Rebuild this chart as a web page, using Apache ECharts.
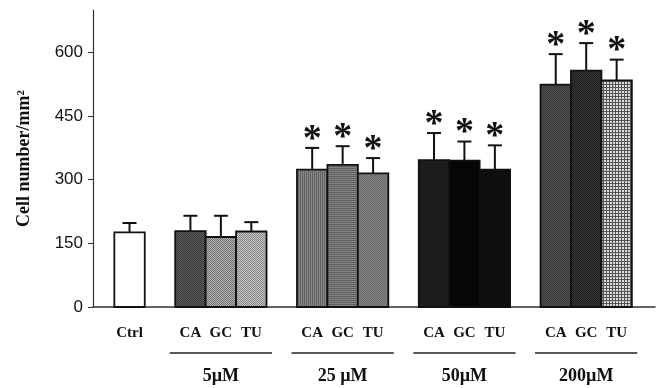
<!DOCTYPE html>
<html>
<head>
<meta charset="utf-8">
<script src="https://cdn.jsdelivr.net/npm/echarts@6/dist/echarts.min.js"></script>
<style>html,body{margin:0;padding:0;background:#fff;}#c{width:657px;height:388px;}</style>
</head>
<body>
<div id="c"></div>
<script>
// ---- data ----
const ctrlName = 'Ctrl';
const compoundNames = ['CA', 'GC', 'TU'];
const groupNames = ['5µM', '25 µM', '50µM', '200µM'];
const ctrlMean = [176];
const ctrlSD = [22];
const mean5 = [179, 165, 178];
const sd5 = [36, 50, 22];
const mean25 = [324, 335, 315];
const sd25 = [51, 44, 36];
const mean50 = [346, 345, 324];
const sd50 = [64, 45, 57];
const mean200 = [524, 557, 534];
const sd200 = [72, 65, 49];
const groupStarred = [false, true, true, true];
const yTicks = [0, 150, 300, 450, 600];

// ---- fills ----
function pat(bg, fg, kind) {
  const c = document.createElement('canvas');
  const n = kind === 'grid' ? 3 : 2;
  c.width = n; c.height = n;
  const g = c.getContext('2d');
  g.fillStyle = bg; g.fillRect(0, 0, n, n);
  g.fillStyle = fg;
  if (kind === 'dots') { g.fillRect(0, 0, 1, 1); g.fillRect(1, 1, 1, 1); }
  else if (kind === 'v') { g.fillRect(0, 0, 1, n); }
  else if (kind === 'h') { g.fillRect(0, 0, n, 1); }
  else if (kind === 'grid') { g.fillRect(0, 0, n, 1); g.fillRect(0, 0, 1, n); }
  return { image: c, repeat: 'repeat' };
}
const ctrlFill = '#ffffff';
const groupFills = [
  [pat('#5e5e5e', '#363636', 'dots'), pat('#b0b0b0', '#747474', 'dots'), pat('#c8c8c8', '#848484', 'dots')],
  [pat('#868686', '#646464', 'v'), pat('#828282', '#626262', 'h'), pat('#868686', '#686868', 'dots')],
  ['#1c1c1c', '#060606', '#0e0e0e'],
  [pat('#505050', '#383838', 'dots'), pat('#3a3a3a', '#1a1a1a', 'dots'), pat('#dcdcdc', '#555555', 'grid')]
];

// ---- build bar list (slot positions derived from group structure) ----
const groupMeans = [mean5, mean25, mean50, mean200];
const groupSDs = [sd5, sd25, sd50, sd200];
const bars = [];
const fills = [];
bars.push([0, ctrlMean[0], ctrlSD[0], ctrlName, 0]);
fills.push(ctrlFill);
const groupCenters = [];
groupNames.forEach((gname, g) => {
  const start = 2 + 4 * g;
  groupCenters.push([start + 1, gname]);
  compoundNames.forEach((cn, k) => {
    bars.push([start + k, groupMeans[g][k], groupSDs[g][k], cn, groupStarred[g] ? 1 : 0]);
    fills.push(groupFills[g][k]);
  });
});

const serif = '"Liberation Serif", "Times New Roman", serif';
const chart = echarts.init(document.getElementById('c'), null, { renderer: 'canvas' });
chart.setOption({
  animation: false,
  backgroundColor: '#ffffff',
  grid: { left: 93, right: 2, top: 10, bottom: 81 },
  xAxis: {
    type: 'value', min: -1.2, max: 17.26,
    axisLine: { show: true, onZero: false, lineStyle: { color: '#333', width: 1.5 } },
    axisTick: { show: false }, axisLabel: { show: false }, splitLine: { show: false }
  },
  yAxis: {
    type: 'value', min: 0, max: 700, interval: 150,
    name: 'Cell number/mm²', nameLocation: 'middle', nameGap: 60,
    nameTextStyle: { fontFamily: serif, fontWeight: 'bold', fontSize: 18, color: '#111' },
    axisLine: { show: true, onZero: false, lineStyle: { color: '#333', width: 1.2 } },
    axisTick: { show: true, length: 5, customValues: yTicks, lineStyle: { color: '#333' } },
    axisLabel: { customValues: yTicks, margin: 10, fontFamily: '"Liberation Sans", Arial, sans-serif', fontSize: 17, color: '#111' },
    splitLine: { show: false }
  },
  series: [
    {
      type: 'custom',
      clip: false,
      data: bars,
      renderItem: function (params, api) {
        const x = api.value(0), y = api.value(1), sd = api.value(2);
        const lab = bars[params.dataIndex][3];
        const star = api.value(4);
        const pL = api.coord([x - 0.5, 0]);
        const pR = api.coord([x + 0.5, y]);
        const pT = api.coord([x, y + sd]);
        const cx = (pL[0] + pR[0]) / 2;
        const children = [
          { type: 'line', shape: { x1: cx, y1: pR[1], x2: cx, y2: pT[1] }, style: { stroke: '#111', lineWidth: 2 } },
          { type: 'line', shape: { x1: cx - 7, y1: pT[1], x2: cx + 7, y2: pT[1] }, style: { stroke: '#111', lineWidth: 2 } },
          { type: 'rect', shape: { x: pL[0], y: pR[1], width: pR[0] - pL[0], height: pL[1] - pR[1] },
            style: { fill: fills[params.dataIndex], stroke: '#111', lineWidth: 1.8 } },
          { type: 'text', x: cx, y: pL[1] + 26,
            style: { text: lab, font: 'bold 15px ' + serif, fill: '#111', align: 'center', verticalAlign: 'middle' } }
        ];
        if (star) {
          children.push({ type: 'text', x: cx, y: pT[1] - 8,
            style: { text: '*', font: 'bold 38px ' + serif, fill: '#111', align: 'center', verticalAlign: 'middle' } });
        }
        return { type: 'group', children: children };
      }
    },
    {
      type: 'custom',
      clip: false,
      data: groupCenters,
      renderItem: function (params, api) {
        const x = api.value(0);
        const name = groupCenters[params.dataIndex][1];
        const p = api.coord([x, 0]);
        const half = api.size([1.68, 0])[0];
        return { type: 'group', children: [
          { type: 'line', shape: { x1: p[0] - half, y1: p[1] + 46, x2: p[0] + half, y2: p[1] + 46 }, style: { stroke: '#222', lineWidth: 1.5 } },
          { type: 'text', x: p[0], y: p[1] + 69,
            style: { text: name, font: 'bold 18px ' + serif, fill: '#111', align: 'center', verticalAlign: 'middle' } }
        ] };
      }
    }
  ]
});
</script>
</body>
</html>
